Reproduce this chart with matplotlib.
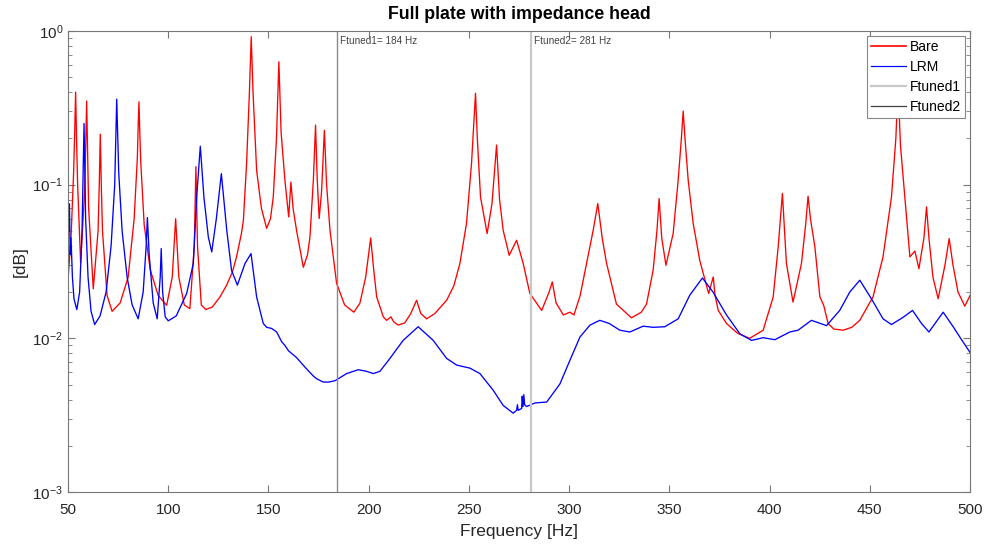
import matplotlib
matplotlib.use("Agg")
import matplotlib.pyplot as plt
from matplotlib.lines import Line2D
from matplotlib.ticker import LogLocator, MultipleLocator, NullFormatter

plt.rcParams['font.family'] = ['Liberation Sans', 'DejaVu Sans']

# Bare plate response (frequency in Hz, amplitude)
bare_freq = [50.0, 51.5, 52.8, 53.3, 53.8, 54.3, 54.8, 56.3, 58.3, 58.8, 59.3, 59.8, 60.3, 62.6,
             65.0, 65.6, 66.1, 66.6, 67.2, 69.5, 72.0, 76.0, 80.0, 83.0, 84.6, 85.0, 85.4,
             85.8, 86.3, 88.0, 91.0, 95.0, 99.2, 102.0, 103.7, 105.3, 108.0, 110.8,
             113.0, 113.8, 114.6, 116.5, 118.7, 122.0, 125.8, 129.0, 132.0, 134.1,
             136.5, 137.5, 139.1, 140.5, 141.4, 142.3, 144.1, 146.5, 149.1, 151.0,
             152.4, 154.0, 155.2, 156.3, 158.2, 160.1, 161.2, 162.3, 164.0, 167.4,
             169.5, 170.7, 172.4, 173.5, 174.3, 175.3, 176.5, 177.9, 179.0, 180.7,
             184.0, 188.0, 192.6, 195.6, 198.5, 201.0, 202.5, 204.0, 207.3, 208.9,
             211.1, 212.5, 214.7, 218.0, 221.0, 223.9, 226.0, 228.9, 233.0, 238.9,
             242.5, 245.5, 248.8, 251.3, 252.3, 253.3, 254.2, 255.8, 259.1, 261.5, 263.8,
             265.3, 267.1, 270.1, 273.8, 277.1, 280.4, 286.3, 290.0, 291.6, 293.5,
             297.1, 300.4, 302.4, 305.5, 308.7, 312.0, 314.3, 316.5, 318.7, 323.6,
             331.1, 336.0, 338.6, 341.9, 343.8, 344.9, 346.2, 348.3, 351.9, 354.4,
             356.0, 356.9, 357.8, 359.4, 361.9, 365.2, 369.6, 371.9, 372.8, 374.4,
             378.5, 384.0, 390.0, 396.8, 401.8, 404.3, 406.4, 407.5, 408.4, 411.7,
             415.9, 418.0, 419.2, 420.4, 422.6, 425.1, 427.0, 429.2, 432.0, 436.7,
             441.0, 445.0, 451.6, 456.6, 460.8, 463.0, 464.1, 465.3, 467.5, 470.0,
             472.5, 474.5, 477.0, 478.3, 479.5, 481.5, 484.1, 487.5, 489.6, 491.5,
             494.0, 497.4, 500.0]
bare_amp = [0.024, 0.045, 0.12, 0.21, 0.40, 0.19, 0.10, 0.031, 0.09, 0.17, 0.35, 0.15, 0.07, 0.021,
            0.05, 0.1, 0.213, 0.1, 0.05, 0.019, 0.015, 0.017, 0.025, 0.06, 0.15, 0.24, 0.346,
            0.22, 0.14, 0.055, 0.028, 0.019, 0.0164, 0.025, 0.06, 0.025, 0.0165, 0.0156,
            0.04, 0.131, 0.04, 0.0165, 0.0154, 0.016, 0.0186, 0.022, 0.027, 0.034,
            0.048, 0.0587, 0.138, 0.40, 0.918, 0.40, 0.124, 0.07, 0.052, 0.06,
            0.083, 0.2, 0.631, 0.22, 0.107, 0.0617, 0.104, 0.07, 0.0505, 0.029,
            0.035, 0.0457, 0.107, 0.244, 0.11, 0.0602, 0.09, 0.226, 0.1, 0.0505,
            0.0228, 0.0165, 0.0148, 0.0169, 0.025, 0.045, 0.028, 0.0186, 0.0138, 0.0131,
            0.0138, 0.0128, 0.0122, 0.0126, 0.0145, 0.0177, 0.0145, 0.0134, 0.0145, 0.0177,
            0.022, 0.0307, 0.0559, 0.137, 0.23, 0.393, 0.2, 0.083, 0.0481, 0.075, 0.181,
            0.08, 0.0505, 0.0347, 0.0435, 0.0307, 0.0196, 0.0152, 0.02, 0.0233, 0.017,
            0.0142, 0.0148, 0.0142, 0.019, 0.0307, 0.0505, 0.0754, 0.045, 0.0307, 0.0167,
            0.0136, 0.0148, 0.0167, 0.0277, 0.05, 0.0813, 0.045, 0.0299, 0.0481, 0.107,
            0.2, 0.301, 0.2, 0.107, 0.0559, 0.032, 0.0196, 0.0251, 0.019, 0.0152,
            0.0125, 0.0108, 0.01, 0.0113, 0.0186, 0.0394, 0.0877, 0.05, 0.0307, 0.0172,
            0.0307, 0.055, 0.0841, 0.06, 0.0394, 0.0186, 0.0164, 0.0125, 0.0115, 0.0113,
            0.0118, 0.0131, 0.0186, 0.0339, 0.083, 0.2, 0.45, 0.18, 0.083, 0.0339,
            0.037, 0.0284, 0.045, 0.0717, 0.045, 0.025, 0.0181, 0.03, 0.0446, 0.03,
            0.02, 0.0162, 0.019]

# plate with locally resonant metamaterial
lrm_freq = [50.0, 50.4, 50.7, 51.1, 51.5, 52.2, 53.0, 54.4, 55.8, 57.0,
            58.0, 58.8, 60.0, 61.5, 63.3, 66.0, 69.0, 71.5, 73.3, 74.3,
            75.3, 77.0, 79.5, 82.0, 85.0, 87.5, 89.0, 89.6, 90.5, 92.5,
            94.5, 96.0, 96.5, 97.2, 98.5, 100.0, 104.0, 109.2, 112.5, 114.2,
            116.0, 117.8, 120.0, 121.7, 124.0, 126.5, 129.2, 131.6, 134.5, 138.3,
            141.3, 144.1, 147.4, 149.1, 151.6, 154.1, 156.6, 158.2, 160.0, 164.0, 168.2, 172.3,
            174.0, 177.3, 179.8, 183.2, 189.0, 194.8, 199.0, 202.3, 205.6, 210.6, 217.2, 224.7,
            232.2, 238.9, 243.9, 250.5, 255.5, 262.1, 267.1, 272.1, 273.8, 274.2,
            274.6, 276.3, 276.6, 277.0, 277.4, 277.8, 278.8, 283.0, 288.8, 295.4,
            300.4, 305.4, 310.4, 315.3, 320.0, 325.3, 330.3, 336.9, 342.0, 347.7,
            354.4, 360.2, 366.5, 371.8, 378.5, 385.2, 391.0, 396.8, 402.6, 410.1,
            414.2, 420.9, 428.4, 435.0, 440.0, 445.0, 450.8, 456.6, 460.8, 466.6,
            471.3, 475.8, 479.5, 486.6, 491.6, 494.9, 500.0]
lrm_amp = [0.088, 0.05, 0.075, 0.035, 0.045, 0.025, 0.018, 0.0154, 0.02, 0.05,
           0.25, 0.06, 0.025, 0.015, 0.0123, 0.014, 0.02, 0.04, 0.1, 0.36,
           0.12, 0.05, 0.025, 0.0165, 0.0134, 0.02, 0.04, 0.0611, 0.035, 0.017,
           0.0134, 0.025, 0.0384, 0.02, 0.0138, 0.013, 0.014, 0.0196, 0.0307, 0.083,
           0.178, 0.083, 0.0457, 0.0365, 0.06, 0.118, 0.0505, 0.0277, 0.0222, 0.0307,
           0.0356, 0.0186, 0.0125, 0.0118, 0.0116, 0.011, 0.0095, 0.009, 0.0083, 0.0075, 0.0065, 0.0057,
           0.00546, 0.0052, 0.00519, 0.0053, 0.0059, 0.00625, 0.0061, 0.0059, 0.0061, 0.0074, 0.0097, 0.0119,
           0.0097, 0.0074, 0.0067, 0.0064, 0.0059, 0.0046, 0.00366, 0.00326, 0.0034, 0.0037,
           0.0034, 0.0035, 0.0042, 0.0036, 0.0043, 0.0037, 0.0036, 0.0038, 0.00385, 0.00505,
           0.0072, 0.0102, 0.0122, 0.0131, 0.0125, 0.0113, 0.011, 0.012, 0.0118, 0.0119,
           0.0134, 0.0191, 0.0247, 0.02, 0.0142, 0.0107, 0.0097, 0.0101, 0.0098, 0.011,
           0.0113, 0.0131, 0.0121, 0.0152, 0.02, 0.0239, 0.0181, 0.0134, 0.0123, 0.0137,
           0.0152, 0.0125, 0.011, 0.0148, 0.0119, 0.0102, 0.0081]

f_tuned1 = 184
f_tuned2 = 281

fig = plt.figure(figsize=(9.87, 5.45), dpi=100)
ax = fig.add_axes([0.0689, 0.0972, 0.9139, 0.8459])

ax.plot(bare_freq, bare_amp, color='red', lw=0.95)
ax.plot(lrm_freq, lrm_amp, color='blue', lw=0.95)
ax.axvline(f_tuned1, color='#8a8a8a', lw=1.0)
ax.axvline(f_tuned2, color='#c8c8c8', lw=1.6)

ax.text(f_tuned1 + 1.5, 0.99, 'Ftuned1= %d Hz' % f_tuned1, transform=ax.get_xaxis_transform(),
        fontsize=7.2, color='#444444', va='top')
ax.text(f_tuned2 + 1.5, 0.99, 'Ftuned2= %d Hz' % f_tuned2, transform=ax.get_xaxis_transform(),
        fontsize=7.2, color='#444444', va='top')

ax.set_yscale('log')
ax.set_xlim(50, 500)
ax.set_ylim(1e-3, 1)
ax.xaxis.set_major_locator(MultipleLocator(50))
ax.yaxis.set_major_locator(LogLocator(base=10, numticks=10))
ax.yaxis.set_minor_locator(LogLocator(base=10, subs=range(2, 10), numticks=10))
ax.yaxis.set_minor_formatter(NullFormatter())

ax.tick_params(which='both', direction='in', top=True, right=True, colors='#777777',
               labelcolor='#262626', labelsize=11)
ax.tick_params(which='major', length=5)
ax.tick_params(which='minor', length=3)
ax.tick_params(axis='x', pad=8)
for s in ax.spines.values():
    s.set_color('#777777')

ax.set_title('Full plate with impedance head', fontsize=12.8, fontweight='bold', pad=9)
ax.set_xlabel('Frequency [Hz]', fontsize=12.5, color='#262626', labelpad=5)
ax.set_ylabel('[dB]', fontsize=12.5, color='#262626', labelpad=3)

handles = [Line2D([], [], color='red', lw=1.2),
           Line2D([], [], color='blue', lw=0.9),
           Line2D([], [], color='#c8c8c8', lw=1.6),
           Line2D([], [], color='#404040', lw=0.9)]
leg = ax.legend(handles, ['Bare', 'LRM', 'Ftuned1', 'Ftuned2'], loc='upper right',
                fontsize=10, fancybox=False, framealpha=1, edgecolor='#888888',
                borderaxespad=0.35, handlelength=2.5, handletextpad=0.3,
                labelspacing=0.42, borderpad=0.3)
leg.get_frame().set_linewidth(0.8)

plt.savefig('out.png', dpi=100)
